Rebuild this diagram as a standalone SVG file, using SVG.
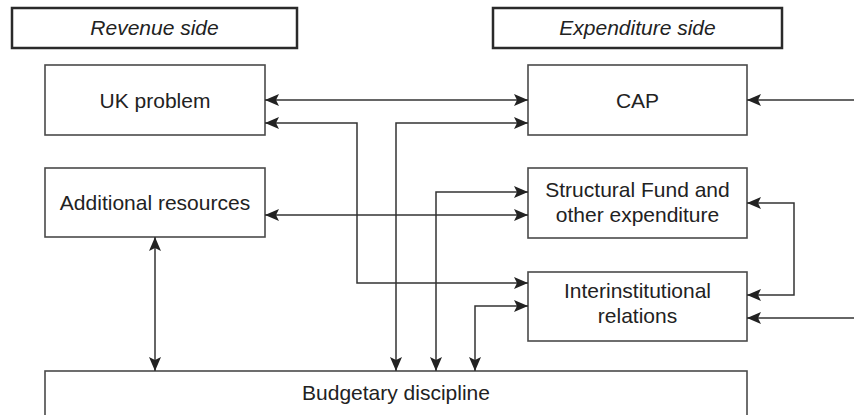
<svg xmlns="http://www.w3.org/2000/svg" width="854" height="415" viewBox="0 0 854 415">
  <style>
    .hdr { fill: #fff; stroke: #2a2a2a; stroke-width: 2.5; }
    .box { fill: #fff; stroke: #4a4a4a; stroke-width: 1.6; }
    .lbl { font-family: "Liberation Sans", Arial, sans-serif; font-size: 21px; fill: #222; text-anchor: middle; }
    .it { font-style: italic; }
    .wire { fill: none; stroke: #333; stroke-width: 1.5; }
  </style>
  <defs>
    <marker id="arrow" viewBox="0 0 14 12" refX="14" refY="6" markerWidth="14" markerHeight="12" markerUnits="userSpaceOnUse" orient="auto-start-reverse">
      <path d="M0,0 L14,6 L0,12 L3,6 Z" fill="#222"/>
    </marker>
  </defs>

  <rect width="854" height="415" fill="#fff"/>

  <!-- column headings -->
  <g id="revenue-side">
    <rect class="hdr" x="12" y="8" width="285" height="40"/>
    <text class="lbl it" x="154.5" y="35">Revenue side</text>
  </g>
  <g id="expenditure-side">
    <rect class="hdr" x="493" y="8" width="289" height="40"/>
    <text class="lbl it" x="637.5" y="35">Expenditure side</text>
  </g>

  <!-- nodes -->
  <g id="uk-problem">
    <rect class="box" x="45" y="65" width="220" height="70"/>
    <text class="lbl" x="155" y="108">UK problem</text>
  </g>
  <g id="additional-resources">
    <rect class="box" x="45" y="168" width="220" height="69"/>
    <text class="lbl" x="155" y="210">Additional resources</text>
  </g>
  <g id="cap">
    <rect class="box" x="528" y="65" width="219" height="70"/>
    <text class="lbl" x="637.5" y="108">CAP</text>
  </g>
  <g id="structural-fund">
    <rect class="box" x="528" y="168" width="219" height="70"/>
    <text class="lbl" x="637.5" y="197">Structural Fund and</text>
    <text class="lbl" x="637.5" y="222">other expenditure</text>
  </g>
  <g id="interinstitutional">
    <rect class="box" x="528" y="272" width="219" height="69"/>
    <text class="lbl" x="637.5" y="298">Interinstitutional</text>
    <text class="lbl" x="637.5" y="323">relations</text>
  </g>
  <g id="budgetary-discipline">
    <rect class="box" x="45" y="371" width="702" height="60"/>
    <text class="lbl" x="396" y="400">Budgetary discipline</text>
  </g>

  <!-- connectors -->
  <g id="connectors" class="wire">
    <path class="wire" d="M265,100 H528" marker-start="url(#arrow)" marker-end="url(#arrow)"/>
    <path class="wire" d="M265,123 H357 V283 H528" marker-start="url(#arrow)" marker-end="url(#arrow)"/>
    <path class="wire" d="M528,123 H396 V371" marker-start="url(#arrow)" marker-end="url(#arrow)"/>
    <path class="wire" d="M528,192 H436 V371" marker-start="url(#arrow)" marker-end="url(#arrow)"/>
    <path class="wire" d="M265,215 H528" marker-start="url(#arrow)" marker-end="url(#arrow)"/>
    <path class="wire" d="M528,306 H475 V371" marker-start="url(#arrow)" marker-end="url(#arrow)"/>
    <path class="wire" d="M155,237 V371" marker-start="url(#arrow)" marker-end="url(#arrow)"/>
    <path class="wire" d="M854,100 H747" marker-end="url(#arrow)"/>
    <path class="wire" d="M747,203 H794 V295 H747" marker-start="url(#arrow)" marker-end="url(#arrow)"/>
    <path class="wire" d="M854,318 H747" marker-end="url(#arrow)"/>
  </g>
</svg>
